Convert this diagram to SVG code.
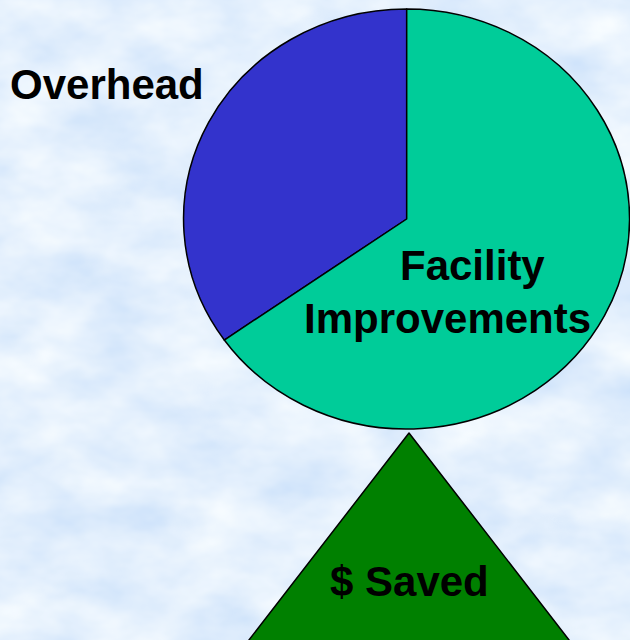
<svg xmlns="http://www.w3.org/2000/svg" width="630" height="640" viewBox="0 0 630 640">
  <defs>
    <filter id="clouds" x="0" y="0" width="100%" height="100%" filterUnits="userSpaceOnUse">
      <feTurbulence type="fractalNoise" baseFrequency="0.012 0.02" numOctaves="4" seed="7" result="n"/>
      <feColorMatrix in="n" type="matrix" values="0.45 0 0 0 0.55  0.3 0 0 0 0.72  0.06 0 0 0 0.95  0 0 0 0 1"/>
    </filter>
    <style>
      .lbl { font-family: "Liberation Sans", Arial, sans-serif; font-weight: bold; font-size: 42px; fill: #000; }
      .edge { stroke: #000; stroke-width: 1.5; stroke-linejoin: round; }
    </style>
  </defs>
  <rect id="background" x="0" y="0" width="630" height="640" fill="#c6ddf8"/>
  <rect x="0" y="0" width="630" height="640" filter="url(#clouds)"/>

  <g id="pie">
    <g id="slice-overhead">
      <path class="edge" fill="#3333CC" d="M406.7,219 L406.7,9 A223,210 0 0,0 224.3,340 Z"/>
    </g>
    <g id="slice-facility">
      <path class="edge" fill="#00CC99" d="M406.7,219 L224.3,340 A223,210 0 1,0 406.7,9 Z"/>
    </g>
  </g>

  <g id="fulcrum">
    <polygon class="edge" fill="#008000" points="409,433 233.5,660 584.5,660"/>
  </g>

  <g id="labels">
    <text class="lbl" x="10" y="99" font-size="41.5">Overhead</text>
    <text class="lbl" x="400" y="280" font-size="42.5">Facility</text>
    <text class="lbl" x="304" y="333" font-size="42.5">Improvements</text>
    <text class="lbl" x="330" y="596" font-size="42.5">$ Saved</text>
  </g>
</svg>
